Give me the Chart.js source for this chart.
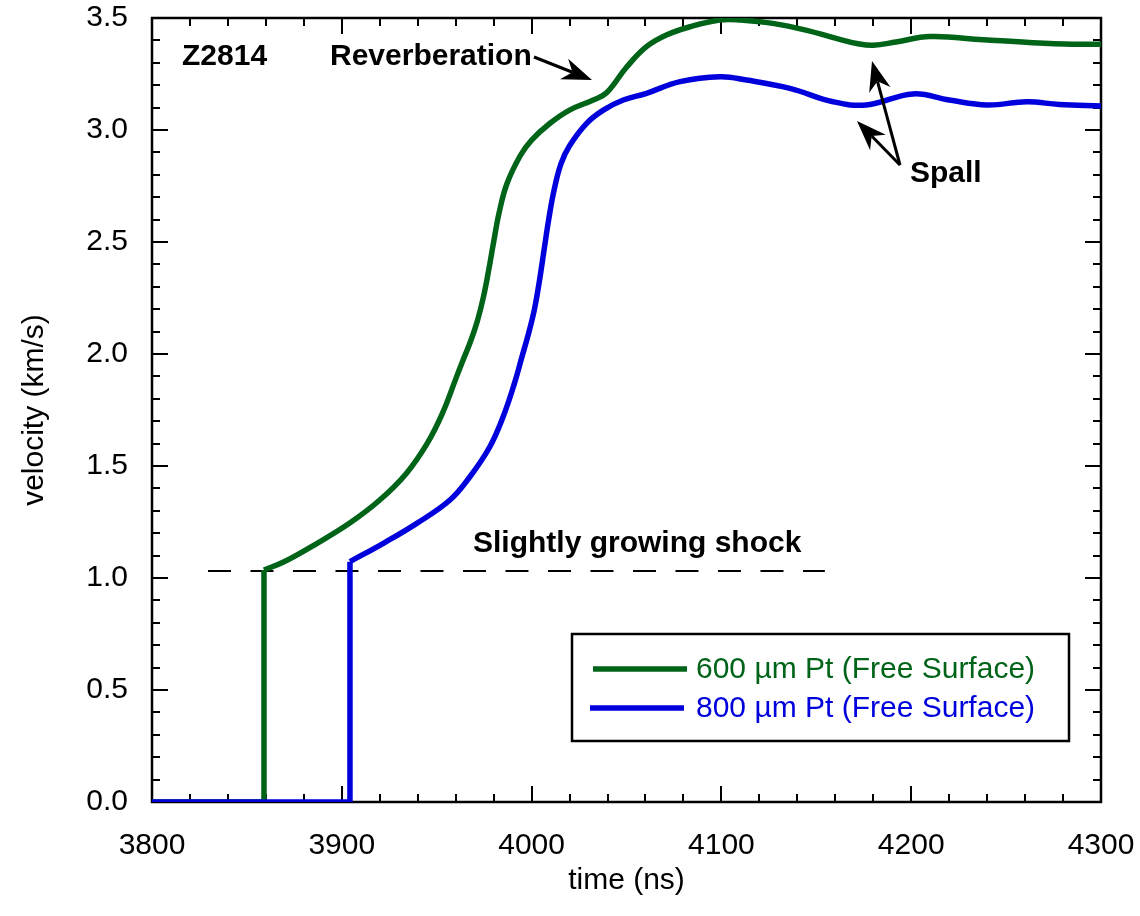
<!DOCTYPE html>
<html>
<head>
<meta charset="utf-8">
<script src="https://cdn.jsdelivr.net/npm/chart.js@4.4.1/dist/chart.umd.min.js"></script>
<style>
  html, body { margin: 0; padding: 0; background: #fff; }
  canvas { display: block; }
</style>
</head>
<body>
<canvas id="c" width="1140" height="916"></canvas>
<script>
// ---------------- data ----------------
const time600 = [3800, 3858.5, 3859, 3869, 3887, 3904, 3920, 3934, 3945, 3953, 3960.5, 3964, 3968, 3971.5, 3974.5, 3977.3, 3980, 3983, 3987, 3994, 4000, 4009.7, 4020, 4032.5, 4039.5, 4050, 4060.5, 4071, 4083.5, 4099, 4110, 4127, 4145, 4160, 4172, 4180, 4192, 4210, 4238, 4264, 4285, 4300];
const vel600  = [0, 0, 1.036, 1.07, 1.155, 1.244, 1.348, 1.467, 1.601, 1.735, 1.899, 1.975, 2.06, 2.15, 2.25, 2.37, 2.5, 2.635, 2.76, 2.885, 2.955, 3.03, 3.089, 3.134, 3.166, 3.28, 3.372, 3.424, 3.461, 3.491, 3.491, 3.476, 3.445, 3.41, 3.385, 3.378, 3.393, 3.417, 3.403, 3.39, 3.383, 3.383];

const time800 = [3800, 3903.8, 3904.3, 3921.9, 3939.5, 3957, 3967.5, 3978, 3985, 3991, 3995, 3998.5, 4001.5, 4004, 4006.5, 4009, 4011.8, 4015.5, 4020, 4029, 4037.8, 4048.3, 4060.6, 4078.2, 4099.3, 4113.3, 4136.1, 4158.9, 4176.5, 4201, 4220, 4240, 4261, 4278, 4300];
const vel800  = [0, 0, 1.073, 1.155, 1.244, 1.348, 1.452, 1.586, 1.72, 1.87, 1.99, 2.095, 2.2, 2.32, 2.46, 2.6, 2.73, 2.85, 2.93, 3.03, 3.089, 3.134, 3.164, 3.216, 3.238, 3.223, 3.186, 3.126, 3.112, 3.161, 3.134, 3.112, 3.126, 3.114, 3.107];

// index where the shock jump reaches its top (start of the smooth part)
const jumpTop600 = 2;
const jumpTop800 = 2;

const shockTime = [3829.5, 4154.5];
const shockVel  = [1.031, 1.031];

const seriesLabels = ['600 \u00b5m Pt (Free Surface)', '800 \u00b5m Pt (Free Surface)'];
const seriesColors = ['#006418', '#0000dd'];

const xRange = [3800, 4300];
const yRange = [0, 3.5];
const xMajorStep = 100, xMinorStep = 20;
const yMajorStep = 0.5, yMinorStep = 0.1;

const FONT = "'Liberation Sans', Arial, Helvetica, sans-serif";
const LINE_W = 5.5;

const toPts = (xs, ys) => xs.map((x, i) => ({ x: x, y: ys[i] }));

// ---------------- plugins ----------------
const framePlugin = {
  id: 'frame',
  beforeDatasetsDraw(chart) {
    const { ctx, chartArea: a, scales: { x, y } } = chart;
    ctx.save();
    ctx.strokeStyle = '#000';
    ctx.lineWidth = 2;
    ctx.lineCap = 'butt';
    ctx.beginPath();
    const nx = Math.round((xRange[1] - xRange[0]) / xMinorStep);
    for (let i = 0; i <= nx; i++) {
      const v = xRange[0] + i * xMinorStep;
      const major = (i % Math.round(xMajorStep / xMinorStep)) === 0;
      const L = major ? 16 : 8;
      const px = Math.round(x.getPixelForValue(v));
      ctx.moveTo(px, a.bottom); ctx.lineTo(px, a.bottom - L);
      ctx.moveTo(px, a.top); ctx.lineTo(px, a.top + L);
    }
    const ny = Math.round((yRange[1] - yRange[0]) / yMinorStep);
    for (let i = 0; i <= ny; i++) {
      const v = yRange[0] + i * yMinorStep;
      const major = (i % Math.round(yMajorStep / yMinorStep)) === 0;
      const L = major ? 16 : 8;
      const py = Math.round(y.getPixelForValue(v));
      ctx.moveTo(a.left, py); ctx.lineTo(a.left + L, py);
      ctx.moveTo(a.right, py); ctx.lineTo(a.right - L, py);
    }
    ctx.stroke();
    ctx.lineWidth = 2.5;
    ctx.strokeRect(a.left, a.top, a.right - a.left, a.bottom - a.top);
    ctx.restore();
  }
};

function arrow(ctx, x0, y0, x1, y1) {
  const ang = Math.atan2(y1 - y0, x1 - x0);
  const L = 30, W = 11, N = 21;
  const cos = Math.cos(ang), sin = Math.sin(ang);
  ctx.beginPath();
  ctx.moveTo(x0, y0);
  ctx.lineTo(x1 - N * cos, y1 - N * sin);
  ctx.stroke();
  ctx.beginPath();
  ctx.moveTo(x1, y1);
  ctx.lineTo(x1 - L * cos - W * sin, y1 - L * sin + W * cos);
  ctx.lineTo(x1 - N * cos, y1 - N * sin);
  ctx.lineTo(x1 - L * cos + W * sin, y1 - L * sin - W * cos);
  ctx.closePath();
  ctx.fill();
}

const annotPlugin = {
  id: 'annot',
  afterDatasetsDraw(chart) {
    const { ctx } = chart;
    ctx.save();
    ctx.fillStyle = '#000';
    ctx.strokeStyle = '#000';
    ctx.textBaseline = 'alphabetic';
    ctx.textAlign = 'left';
    ctx.font = 'bold 30px ' + FONT;
    ctx.fillText('Z2814', 182, 65);
    ctx.fillText('Reverberation', 330, 65);
    ctx.fillText('Slightly growing shock', 473, 552);
    ctx.fillText('Spall', 910, 182);
    ctx.lineWidth = 3;
    arrow(ctx, 534, 57, 592, 80);
    arrow(ctx, 900, 165, 872, 61);
    arrow(ctx, 900, 165, 857, 121);

    // legend
    const bx = 572, by = 634, bw = 497, bh = 107;
    ctx.lineWidth = 2.5;
    ctx.strokeRect(bx, by, bw, bh);
    const rows = [669, 708];
    const lx = [[593, 687], [590, 684]];
    ctx.font = '30px ' + FONT;
    ctx.textBaseline = 'middle';
    chart.data.datasets.slice(0, 2).forEach((ds, i) => {
      ctx.strokeStyle = ds.borderColor;
      ctx.lineWidth = LINE_W;
      ctx.beginPath();
      ctx.moveTo(lx[i][0], rows[i]);
      ctx.lineTo(lx[i][1], rows[i]);
      ctx.stroke();
      ctx.fillStyle = ds.borderColor;
      ctx.fillText(ds.label, 696, rows[i] + 1);
    });
    ctx.restore();
  }
};

const allPts600 = toPts(time600, vel600);
const allPts800 = toPts(time800, vel800);

// ---------------- chart ----------------
new Chart(document.getElementById('c'), {
  type: 'line',
  data: {
    datasets: [
      {
        label: seriesLabels[0],
        data: allPts600.slice(jumpTop600),
        borderColor: seriesColors[0],
        borderWidth: LINE_W,
        pointRadius: 0,
        tension: 0.4,
        order: 1
      },
      {
        label: seriesLabels[1],
        data: allPts800.slice(jumpTop800),
        borderColor: seriesColors[1],
        borderWidth: LINE_W,
        pointRadius: 0,
        tension: 0.4,
        order: 0
      },
      {
        label: 'jump600',
        data: allPts600.slice(0, jumpTop600 + 1),
        borderColor: seriesColors[0],
        borderWidth: LINE_W,
        pointRadius: 0,
        tension: 0,
        order: 1
      },
      {
        label: 'jump800',
        data: allPts800.slice(0, jumpTop800 + 1),
        borderColor: seriesColors[1],
        borderWidth: LINE_W,
        pointRadius: 0,
        tension: 0,
        order: 0
      },
      {
        label: 'shock',
        data: toPts(shockTime, shockVel),
        borderColor: '#000',
        borderWidth: 2,
        borderDash: [23, 19.5],
        pointRadius: 0,
        order: 2
      }
    ]
  },
  options: {
    responsive: false,
    animation: false,
    events: [],
    layout: { padding: { left: 0, right: 39, top: 18, bottom: 0 } },
    plugins: { legend: { display: false }, tooltip: { enabled: false } },
    scales: {
      x: {
        type: 'linear',
        min: xRange[0], max: xRange[1],
        grid: { display: false, drawTicks: false },
        border: { display: false },
        ticks: {
          stepSize: xMajorStep,
          padding: 26,
          color: '#000',
          font: { family: FONT, size: 30 },
          maxRotation: 0,
          callback: v => String(v)
        },
        title: {
          display: true, text: 'time (ns)', color: '#000',
          font: { family: FONT, size: 30 },
          padding: { top: 0, bottom: 17 }
        },
        afterFit: s => { s.height = 114; s.paddingLeft = 0; s.paddingRight = 0; }
      },
      y: {
        type: 'linear',
        min: yRange[0], max: yRange[1],
        grid: { display: false, drawTicks: false },
        border: { display: false },
        ticks: {
          stepSize: yMajorStep,
          padding: 24,
          color: '#000',
          font: { family: FONT, size: 30, lineHeight: 1 },
          callback: v => Number(v).toFixed(1)
        },
        title: {
          display: true, text: 'velocity (km/s)', color: '#000',
          font: { family: FONT, size: 30 },
          padding: { top: 17, bottom: 0 }
        },
        afterFit: s => { s.width = 152; s.paddingTop = 0; s.paddingBottom = 0; }
      }
    }
  },
  plugins: [framePlugin, annotPlugin]
});
</script>
</body>
</html>
